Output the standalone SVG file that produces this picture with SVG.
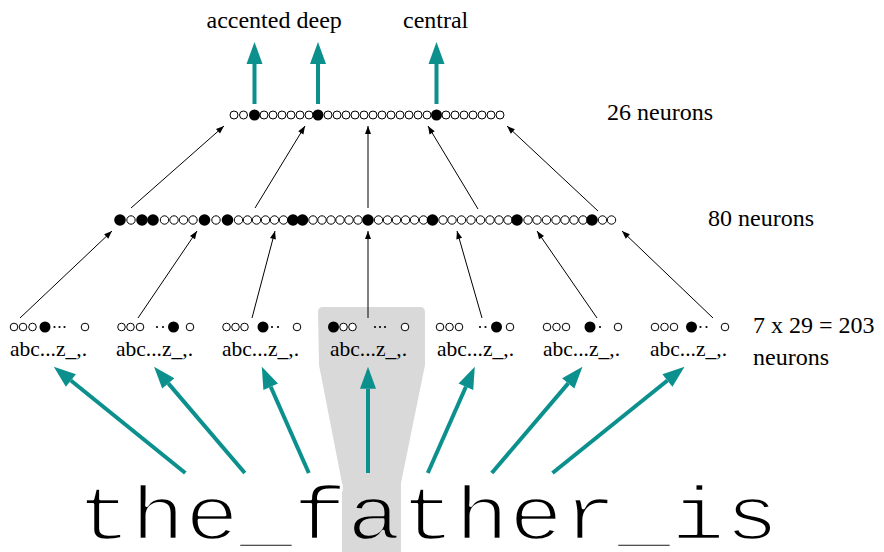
<svg xmlns="http://www.w3.org/2000/svg" width="884" height="552" viewBox="0 0 884 552">
<style>
.o{fill:#fff;stroke:#000;stroke-width:1}
.f{fill:#000}
.d{fill:#000}
.lbl{font-family:"Liberation Serif","Times New Roman",serif;font-size:24px;fill:#000}
.abc{font-family:"Liberation Serif","Times New Roman",serif;font-size:21.5px;fill:#000}
.in{font-family:"Liberation Mono","Courier New",monospace;font-size:90px;fill:#000;stroke:#fff;stroke-width:3;stroke-linejoin:round}
.thin{stroke:#000;stroke-width:1;fill:none;marker-end:url(#bh)}
.teal{stroke:#0b908e;stroke-width:4;fill:none;marker-end:url(#th)}
</style>
<defs>
<marker id="th" markerUnits="userSpaceOnUse" markerWidth="24" markerHeight="18" refX="0" refY="8" orient="auto" overflow="visible">
<path d="M0,0 L22,8 L0,16 Z" fill="#0b908e"/>
</marker>
<marker id="bh" markerUnits="userSpaceOnUse" markerWidth="9" markerHeight="7" refX="8" refY="3" orient="auto" overflow="visible">
<path d="M0,0 L8,3 L0,6 Z" fill="#000"/>
</marker>
</defs>
<rect width="884" height="552" fill="#fff"/>
<path id="highlight" d="M318,312 Q318,307 323,307 L420,307 Q425,307 425,312 L425,365 L401,483 L401,552 L342,552 L342,483 L319,365 Z" fill="#d9d9d9"/>

<g id="output-labels">
<text class="lbl" x="206.5" y="28">accented</text>
<text class="lbl" x="296.5" y="28">deep</text>
<text class="lbl" x="403" y="28">central</text>
</g>

<g id="layer-output">
<circle class="o" cx="234" cy="115" r="4"/><circle class="o" cx="243.5" cy="115" r="4"/>
<circle class="f" cx="254.5" cy="115" r="5.5"/>
<circle class="o" cx="264" cy="115" r="4"/><circle class="o" cx="273" cy="115" r="4"/><circle class="o" cx="282" cy="115" r="4"/><circle class="o" cx="291" cy="115" r="4"/><circle class="o" cx="300" cy="115" r="4"/><circle class="o" cx="309" cy="115" r="4"/>
<circle class="f" cx="318" cy="115" r="5.5"/>
<circle class="o" cx="328" cy="115" r="4"/><circle class="o" cx="337" cy="115" r="4"/><circle class="o" cx="346" cy="115" r="4"/><circle class="o" cx="355" cy="115" r="4"/><circle class="o" cx="364" cy="115" r="4"/><circle class="o" cx="373" cy="115" r="4"/><circle class="o" cx="382" cy="115" r="4"/><circle class="o" cx="391" cy="115" r="4"/><circle class="o" cx="400" cy="115" r="4"/><circle class="o" cx="409" cy="115" r="4"/><circle class="o" cx="418" cy="115" r="4"/><circle class="o" cx="427" cy="115" r="4"/>
<circle class="f" cx="436.5" cy="115" r="5.5"/>
<circle class="o" cx="446" cy="115" r="4"/><circle class="o" cx="455" cy="115" r="4"/><circle class="o" cx="464" cy="115" r="4"/><circle class="o" cx="473" cy="115" r="4"/><circle class="o" cx="482" cy="115" r="4"/><circle class="o" cx="491" cy="115" r="4"/><circle class="o" cx="500" cy="115" r="4"/>
<text class="lbl" x="607" y="120">26 neurons</text>
</g>

<g id="layer-hidden">
<circle class="f" cx="120" cy="220" r="5.8"/><circle class="o" cx="131" cy="220" r="4.2"/><circle class="f" cx="142" cy="220" r="5.8"/><circle class="f" cx="153" cy="220" r="5.8"/>
<circle class="o" cx="164.5" cy="220" r="4.2"/><circle class="o" cx="174" cy="220" r="4.2"/><circle class="o" cx="183.5" cy="220" r="4.2"/><circle class="o" cx="193" cy="220" r="4.2"/>
<circle class="f" cx="204.5" cy="220" r="5.8"/><circle class="o" cx="216" cy="220" r="4.2"/><circle class="f" cx="227.5" cy="220" r="5.8"/>
<circle class="o" cx="238.5" cy="220" r="4.2"/><circle class="o" cx="247.5" cy="220" r="4.2"/><circle class="o" cx="256.5" cy="220" r="4.2"/><circle class="o" cx="265.5" cy="220" r="4.2"/><circle class="o" cx="274.5" cy="220" r="4.2"/><circle class="o" cx="283.5" cy="220" r="4.2"/>
<circle class="f" cx="293" cy="220" r="5.8"/><circle class="f" cx="302.5" cy="220" r="5.8"/>
<circle class="o" cx="313" cy="220" r="4.2"/><circle class="o" cx="322" cy="220" r="4.2"/><circle class="o" cx="331" cy="220" r="4.2"/><circle class="o" cx="340" cy="220" r="4.2"/><circle class="o" cx="349" cy="220" r="4.2"/><circle class="o" cx="358" cy="220" r="4.2"/>
<circle class="f" cx="368" cy="220" r="5.8"/>
<circle class="o" cx="378.5" cy="220" r="4.2"/><circle class="o" cx="387.5" cy="220" r="4.2"/><circle class="o" cx="396.5" cy="220" r="4.2"/><circle class="o" cx="405.5" cy="220" r="4.2"/><circle class="o" cx="414.5" cy="220" r="4.2"/><circle class="o" cx="423.5" cy="220" r="4.2"/>
<circle class="f" cx="432.5" cy="220" r="5.8"/>
<circle class="o" cx="443" cy="220" r="4.2"/><circle class="o" cx="452" cy="220" r="4.2"/><circle class="o" cx="461.5" cy="220" r="4.2"/><circle class="o" cx="471" cy="220" r="4.2"/><circle class="o" cx="480.5" cy="220" r="4.2"/><circle class="o" cx="490" cy="220" r="4.2"/><circle class="o" cx="499" cy="220" r="4.2"/><circle class="o" cx="508" cy="220" r="4.2"/>
<circle class="f" cx="517" cy="220" r="5.8"/>
<circle class="o" cx="528" cy="220" r="4.2"/><circle class="o" cx="537" cy="220" r="4.2"/><circle class="o" cx="546.5" cy="220" r="4.2"/><circle class="o" cx="556" cy="220" r="4.2"/><circle class="o" cx="565" cy="220" r="4.2"/><circle class="o" cx="574" cy="220" r="4.2"/><circle class="o" cx="583" cy="220" r="4.2"/>
<circle class="f" cx="592" cy="220" r="5.8"/>
<circle class="o" cx="602.5" cy="220" r="4.2"/><circle class="o" cx="611.5" cy="220" r="4.2"/>
<text class="lbl" x="708" y="226">80 neurons</text>
</g>

<g id="input-1">
<circle class="o" cx="14" cy="327" r="3.8"/><circle class="o" cx="23" cy="327" r="3.8"/><circle class="o" cx="32.5" cy="327" r="3.8"/>
<circle class="f" cx="45" cy="327" r="5.5"/>
<circle class="d" cx="54.5" cy="327" r="1.1"/><circle class="d" cx="59.5" cy="327" r="1.1"/><circle class="d" cx="64.5" cy="327" r="1.1"/>
<circle class="o" cx="85" cy="327" r="3.8"/>
<text class="abc" x="10" y="356">abc...z_,.</text>
</g>
<g id="input-2">
<circle class="o" cx="121.5" cy="327" r="3.8"/><circle class="o" cx="130.5" cy="327" r="3.8"/><circle class="o" cx="140" cy="327" r="3.8"/>
<circle class="d" cx="157" cy="327" r="1.1"/><circle class="d" cx="163" cy="327" r="1.1"/>
<circle class="f" cx="173.5" cy="327" r="5.5"/>
<circle class="o" cx="190" cy="327" r="3.8"/>
<text class="abc" x="116" y="356">abc...z_,.</text>
</g>
<g id="input-3">
<circle class="o" cx="226.5" cy="327" r="3.8"/><circle class="o" cx="235.5" cy="327" r="3.8"/><circle class="o" cx="244.5" cy="327" r="3.8"/>
<circle class="f" cx="263" cy="327" r="5.5"/>
<circle class="d" cx="272" cy="327" r="1.1"/><circle class="d" cx="278" cy="327" r="1.1"/>
<circle class="o" cx="297" cy="327" r="3.8"/>
<text class="abc" x="222" y="356">abc...z_,.</text>
</g>
<g id="input-4">
<circle class="f" cx="333.5" cy="327" r="5.5"/>
<circle class="o" cx="343.5" cy="327" r="3.8"/><circle class="o" cx="352.5" cy="327" r="3.8"/>
<circle class="d" cx="375" cy="327" r="1.1"/><circle class="d" cx="380" cy="327" r="1.1"/><circle class="d" cx="385" cy="327" r="1.1"/>
<circle class="o" cx="405" cy="327" r="3.8"/>
<text class="abc" x="330" y="356">abc...z_,.</text>
</g>
<g id="input-5">
<circle class="o" cx="440" cy="327" r="3.8"/><circle class="o" cx="449.5" cy="327" r="3.8"/><circle class="o" cx="459" cy="327" r="3.8"/>
<circle class="d" cx="480" cy="327" r="1.1"/><circle class="d" cx="485.5" cy="327" r="1.1"/>
<circle class="f" cx="496.5" cy="327" r="5.5"/>
<circle class="o" cx="510" cy="327" r="3.8"/>
<text class="abc" x="437" y="356">abc...z_,.</text>
</g>
<g id="input-6">
<circle class="o" cx="547" cy="327" r="3.8"/><circle class="o" cx="556.5" cy="327" r="3.8"/><circle class="o" cx="566" cy="327" r="3.8"/>
<circle class="f" cx="590" cy="327" r="5.5"/>
<circle class="d" cx="600" cy="327" r="1.1"/>
<circle class="o" cx="618" cy="327" r="3.8"/>
<text class="abc" x="543" y="356">abc...z_,.</text>
</g>
<g id="input-7">
<circle class="o" cx="655" cy="327" r="3.8"/><circle class="o" cx="664.5" cy="327" r="3.8"/><circle class="o" cx="674" cy="327" r="3.8"/>
<circle class="f" cx="691.5" cy="327" r="5.5"/>
<circle class="d" cx="700.5" cy="327" r="1.1"/><circle class="d" cx="706.5" cy="327" r="1.1"/>
<circle class="o" cx="725" cy="327" r="3.8"/>
<text class="abc" x="650" y="356">abc...z_,.</text>
</g>
<g id="input-label">
<text class="lbl" x="753" y="333">7 x 29 = 203</text>
<text class="lbl" x="753" y="365">neurons</text>
</g>

<g id="input-text">
<text class="in" x="77" y="0" transform="translate(0,539) scale(1,0.85)">the_f<tspan stroke="#d9d9d9">a</tspan>ther_is</text>
</g>

<g id="connectors">
<line class="teal" x1="254.5" y1="104" x2="254.5" y2="64"/>
<line class="teal" x1="318" y1="104" x2="318" y2="64"/>
<line class="teal" x1="436.5" y1="104" x2="436.5" y2="64"/>

<line class="thin" x1="131" y1="208" x2="224" y2="126"/>
<line class="thin" x1="255" y1="208" x2="305" y2="126"/>
<line class="thin" x1="368" y1="208" x2="368" y2="126"/>
<line class="thin" x1="478" y1="209" x2="428" y2="126"/>
<line class="thin" x1="598" y1="211" x2="507" y2="126"/>

<line class="thin" x1="20" y1="318" x2="112" y2="231"/>
<line class="thin" x1="138" y1="318" x2="197" y2="231"/>
<line class="thin" x1="252" y1="318" x2="275" y2="231"/>
<line class="thin" x1="368" y1="318" x2="368" y2="231"/>
<line class="thin" x1="482" y1="318" x2="457" y2="231"/>
<line class="thin" x1="597" y1="318" x2="537" y2="231"/>
<line class="thin" x1="713" y1="318" x2="622" y2="231"/>

<line class="teal" x1="185.3" y1="473" x2="70.9" y2="380.5"/>
<line class="teal" x1="244.8" y1="473" x2="168.3" y2="383.4"/>
<line class="teal" x1="308.8" y1="473" x2="270.7" y2="386.8"/>
<line class="teal" x1="368" y1="473" x2="368" y2="388.7"/>
<line class="teal" x1="427.8" y1="473" x2="465.9" y2="386.8"/>
<line class="teal" x1="491.8" y1="473" x2="568.2" y2="383.4"/>
<line class="teal" x1="552.5" y1="473" x2="667.4" y2="380.5"/>
</g>
</svg>
